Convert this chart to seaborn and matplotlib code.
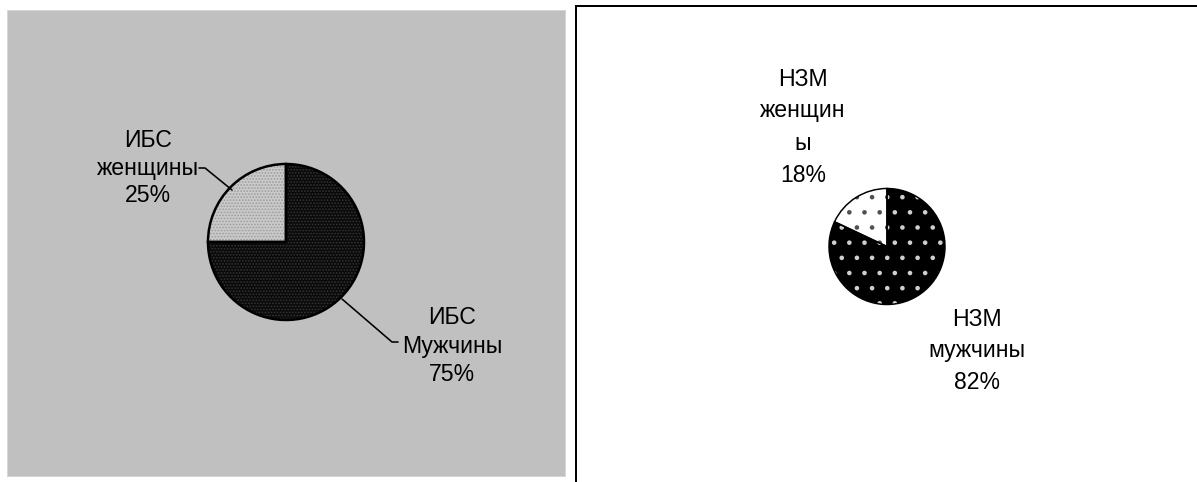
import matplotlib
matplotlib.use("Agg")
import matplotlib.pyplot as plt
import seaborn as sns
from matplotlib.patches import Rectangle

# ---- data ----
ibs_categories = ["ИБС женщины", "ИБС Мужчины"]
ibs_values = [25, 75]
ibs_labels = ["ИБС\nженщины\n25%", "ИБС\nМужчины\n75%"]

nzm_categories = ["НЗМ женщины", "НЗМ мужчины"]
nzm_values = [18, 82]
nzm_labels = ["НЗМ\nженщин\nы\n18%", "НЗМ\nмужчины\n82%"]

sns.set_theme(style="white")
plt.rcParams['font.family'] = ['Liberation Sans', 'DejaVu Sans']

W, H, DPI = 1197, 482, 91
PX = 72.0 / DPI  # one pixel in points

fig = plt.figure(figsize=(W / DPI, H / DPI), dpi=DPI)
fig.patch.set_facecolor('white')
ax = fig.add_axes([0, 0, 1, 1])


def Y(py):
    return H - py


# left grey panel
ax.add_patch(Rectangle((7, Y(476)), 558, 466, facecolor='#c0c0c0',
                       edgecolor='#d6d6d6', linewidth=PX, zorder=0))

# right panel border (top + left)
ax.plot([576, 576, W + 10], [Y(495), Y(6), Y(6)], color='black',
        linewidth=2 * PX, solid_joinstyle='miter', clip_on=False, zorder=1)


def hatched_pie(values, center, radius, faces, hatch_colors, hatch, hlw, outline_lw):
    wedges, _ = ax.pie(values, colors=faces, startangle=90, counterclock=True,
                       radius=radius, center=center, frame=True,
                       wedgeprops=dict(linewidth=0, hatch=hatch))
    for w, hc in zip(wedges, hatch_colors):
        w.set_edgecolor(hc)
        w.set_zorder(2)
        try:
            w.set_hatch_linewidth(hlw)
        except AttributeError:
            plt.rcParams['hatch.linewidth'] = hlw
    outl, _ = ax.pie(values, colors=['none'] * len(values), startangle=90,
                     counterclock=True, radius=radius, center=center, frame=True,
                     wedgeprops=dict(edgecolor='black', linewidth=outline_lw, fill=False))
    for w in outl:
        w.set_zorder(3)


# left pie (ИБС)
hatched_pie(ibs_values, (286, Y(242)), 78,
            faces=['#cacaca', '#0a0a0a'], hatch_colors=['#9c9c9c', '#343434'],
            hatch='.....', hlw=0.9, outline_lw=2.5 * PX)

# right pie (НЗМ)
hatched_pie(nzm_values, (887, Y(246.5)), 58,
            faces=['white', 'black'], hatch_colors=['#505050', '#d0d0d0'],
            hatch='.', hlw=1.2, outline_lw=1.5 * PX)

# leader lines
ax.plot([199, 205, 232], [Y(168), Y(168), Y(190)], color='black', linewidth=1.6 * PX, zorder=4)
ax.plot([342, 392, 398], [Y(299), Y(342), Y(342)], color='black', linewidth=1.6 * PX, zorder=4)

fs = 23 * PX
ax.text(148, Y(168), ibs_labels[0], ha='center', va='center', fontsize=fs,
        linespacing=1.27, color='black', zorder=5)
ax.text(452, Y(346), ibs_labels[1], ha='center', va='center', fontsize=fs,
        linespacing=1.3, color='black', zorder=5)
ax.text(803, Y(127), nzm_labels[0], ha='center', va='center', fontsize=fs,
        linespacing=1.5, color='black', zorder=5)
ax.text(977, Y(351), nzm_labels[1], ha='center', va='center', fontsize=fs,
        linespacing=1.45, color='black', zorder=5)

ax.set_xlim(0, W)
ax.set_ylim(0, H)
ax.set_aspect('equal')
ax.axis('off')

fig.savefig('out.png', dpi=DPI, facecolor='white')
